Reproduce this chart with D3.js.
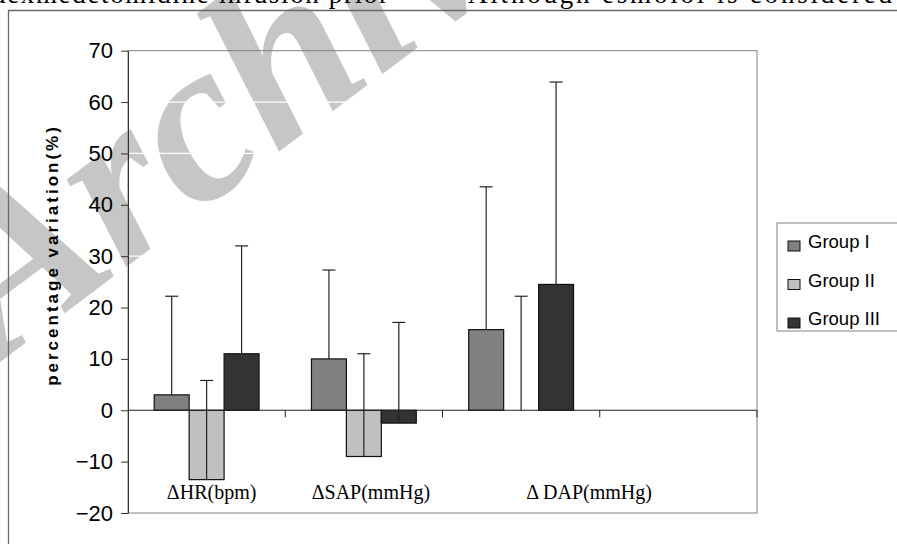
<!DOCTYPE html>
<html>
<head>
<meta charset="utf-8">
<script src="https://cdn.jsdelivr.net/npm/d3@7"></script>
<style>
  body { margin: 0; background: #fff; }
  svg { display: block; }
</style>
</head>
<body>
<svg></svg>
<script>
const categories = ['ΔHR(bpm)', 'ΔSAP(mmHg)', 'Δ DAP(mmHg)', ''];
const groups = ['Group I', 'Group II', 'Group III'];
const groupI = [3, 10, 15.7, null];
const groupII = [-13.5, -9, 0, null];
const groupIII = [11, -2.5, 24.5, null];
const sdI = [19.2, 17.3, 27.8, null];
const sdII = [19.3, 20, 22.2, null];
const sdIII = [21, 19.6, 39.4, null];
const yTicks = [70, 60, 50, 40, 30, 20, 10, 0, -10, -20];

const colors = ['#808080', '#c0c0c0', '#333333'];
const labelShift = [5, 7, 68, 0];

const width = 897;
const height = 544;
const plotLeft = 128;
const plotRight = 757;
const plotTop = 50.7;
const plotBottom = 513;

window.onload = () => {
  const svg = d3.select('svg')
      .attr('width', width)
      .attr('height', height);

  // watermark
  svg.append('text')
      .attr('transform', 'translate(0,362) rotate(-37)')
      .style('font-family', 'Liberation Serif, serif')
      .style('font-size', '230px')
      .style('font-weight', 'bold')
      .style('font-style', 'italic')
      .attr('fill', '#c6c6c6')
      .text('Archive of SID');

  // page text above the figure, cut off by the top edge
  svg.append('text')
      .attr('x', -8)
      .attr('y', 3)
      .attr('textLength', 396)
      .attr('lengthAdjust', 'spacing')
      .style('font-family', 'Liberation Serif, serif')
      .style('font-size', '27px')
      .text('dexmedetomidine infusion prior');
  svg.append('text')
      .attr('x', 468)
      .attr('y', 3)
      .attr('textLength', 424)
      .attr('lengthAdjust', 'spacing')
      .style('font-family', 'Liberation Serif, serif')
      .style('font-size', '27px')
      .text('Although esmolol is considered');

  // outer frame
  svg.append('path')
      .attr('d', `M8.5,${height} V10.5 H${width}`)
      .attr('fill', 'none')
      .attr('stroke', '#6a6a6a')
      .attr('stroke-width', 1.3);

  const y = d3.scaleLinear()
      .domain([-20, 70])
      .range([plotBottom, plotTop]);

  const x = d3.scaleBand()
      .domain(categories)
      .range([plotLeft, plotRight])
      .paddingInner(0)
      .paddingOuter(0);

  const xInner = d3.scaleBand()
      .domain(groups)
      .range([0, x.bandwidth()])
      .paddingInner(0)
      .paddingOuter(0.75);

  // white grid lines (only visible over the watermark)
  svg.append('g')
    .selectAll('line')
    .data(yTicks.filter(d => d < 70 && d > -20))
    .join('line')
      .attr('x1', plotLeft)
      .attr('x2', plotRight)
      .attr('y1', d => y(d))
      .attr('y2', d => y(d))
      .attr('stroke', '#fff')
      .attr('stroke-width', 1.2);

  // plot area border
  svg.append('rect')
      .attr('x', plotLeft)
      .attr('y', plotTop)
      .attr('width', plotRight - plotLeft)
      .attr('height', plotBottom - plotTop)
      .attr('fill', 'none')
      .attr('stroke', '#808080')
      .attr('stroke-width', 1);

  const series = [groupI, groupII, groupIII];
  const sds = [sdI, sdII, sdIII];
  const rows = [];
  series.forEach((vals, gi) => {
    vals.forEach((v, ci) => {
      if (v === null) return;
      rows.push({ cat: categories[ci], group: groups[gi], gi: gi, value: v, sd: sds[gi][ci] });
    });
  });

  // bars
  svg.append('g')
    .selectAll('rect')
    .data(rows.filter(d => d.value !== 0))
    .join('rect')
      .attr('x', d => x(d.cat) + xInner(d.group))
      .attr('y', d => y(Math.max(0, d.value)))
      .attr('width', xInner.bandwidth())
      .attr('height', d => Math.abs(y(d.value) - y(0)))
      .attr('fill', d => colors[d.gi])
      .attr('stroke', '#111')
      .attr('stroke-width', 1.2);

  // error bars (plus direction)
  const err = svg.append('g')
      .attr('stroke', '#222')
      .attr('stroke-width', 1.2);
  err.selectAll('line.stem')
    .data(rows)
    .join('line')
      .attr('class', 'stem')
      .attr('x1', d => x(d.cat) + xInner(d.group) + xInner.bandwidth() / 2)
      .attr('x2', d => x(d.cat) + xInner(d.group) + xInner.bandwidth() / 2)
      .attr('y1', d => y(d.value))
      .attr('y2', d => y(d.value + d.sd));
  err.selectAll('line.cap')
    .data(rows)
    .join('line')
      .attr('class', 'cap')
      .attr('x1', d => x(d.cat) + xInner(d.group) + xInner.bandwidth() / 2 - 6.5)
      .attr('x2', d => x(d.cat) + xInner(d.group) + xInner.bandwidth() / 2 + 6.5)
      .attr('y1', d => y(d.value + d.sd))
      .attr('y2', d => y(d.value + d.sd));

  // y axis
  const yAxis = svg.append('g')
      .attr('transform', `translate(${plotLeft},0)`)
      .call(d3.axisLeft(y).tickValues(yTicks).tickSize(7).tickPadding(8).tickSizeOuter(0));
  yAxis.select('.domain').attr('stroke', '#333');
  yAxis.selectAll('.tick line').attr('stroke', '#333');
  yAxis.selectAll('.tick text')
      .style('font-family', 'Liberation Sans, Arial, sans-serif')
      .style('font-size', '22px')
      .attr('fill', '#000');

  // category axis at zero
  svg.append('line')
      .attr('x1', plotLeft)
      .attr('x2', plotRight)
      .attr('y1', y(0))
      .attr('y2', y(0))
      .attr('stroke', '#222')
      .attr('stroke-width', 1.2);
  svg.append('g')
    .selectAll('line')
    .data(categories)
    .join('line')
      .attr('x1', d => x(d) + x.bandwidth())
      .attr('x2', d => x(d) + x.bandwidth())
      .attr('y1', y(0))
      .attr('y2', y(0) + 7)
      .attr('stroke', '#222');

  // category labels
  svg.append('g')
    .selectAll('text')
    .data(categories)
    .join('text')
      .attr('x', (d, i) => x(d) + x.bandwidth() / 2 + labelShift[i])
      .attr('y', 499)
      .attr('text-anchor', 'middle')
      .style('font-family', 'Liberation Serif, Times New Roman, serif')
      .style('font-size', '20px')
      .text(d => d);

  // y title
  svg.append('text')
      .attr('transform', 'translate(58,255) rotate(-90)')
      .attr('text-anchor', 'middle')
      .style('font-family', 'Liberation Sans, Arial, sans-serif')
      .style('font-size', '17px')
      .style('font-weight', 'bold')
      .style('letter-spacing', '3px')
      .text('percentage variation(%)');

  // legend
  const legend = svg.append('g');
  legend.append('rect')
      .attr('x', 777)
      .attr('y', 223)
      .attr('width', 140)
      .attr('height', 108)
      .attr('fill', '#fff')
      .attr('stroke', '#808080');
  const item = legend.selectAll('g.item')
    .data(groups)
    .join('g')
      .attr('class', 'item')
      .attr('transform', (d, i) => `translate(788,${248 + i * 38.5})`);
  item.append('rect')
      .attr('x', 0)
      .attr('y', -7)
      .attr('width', 12)
      .attr('height', 10)
      .attr('fill', (d, i) => colors[i])
      .attr('stroke', '#111');
  item.append('text')
      .attr('x', 20)
      .attr('y', 0)
      .style('font-family', 'Liberation Sans, Arial, sans-serif')
      .style('font-size', '18.5px')
      .text(d => d);
};
</script>
</body>
</html>
